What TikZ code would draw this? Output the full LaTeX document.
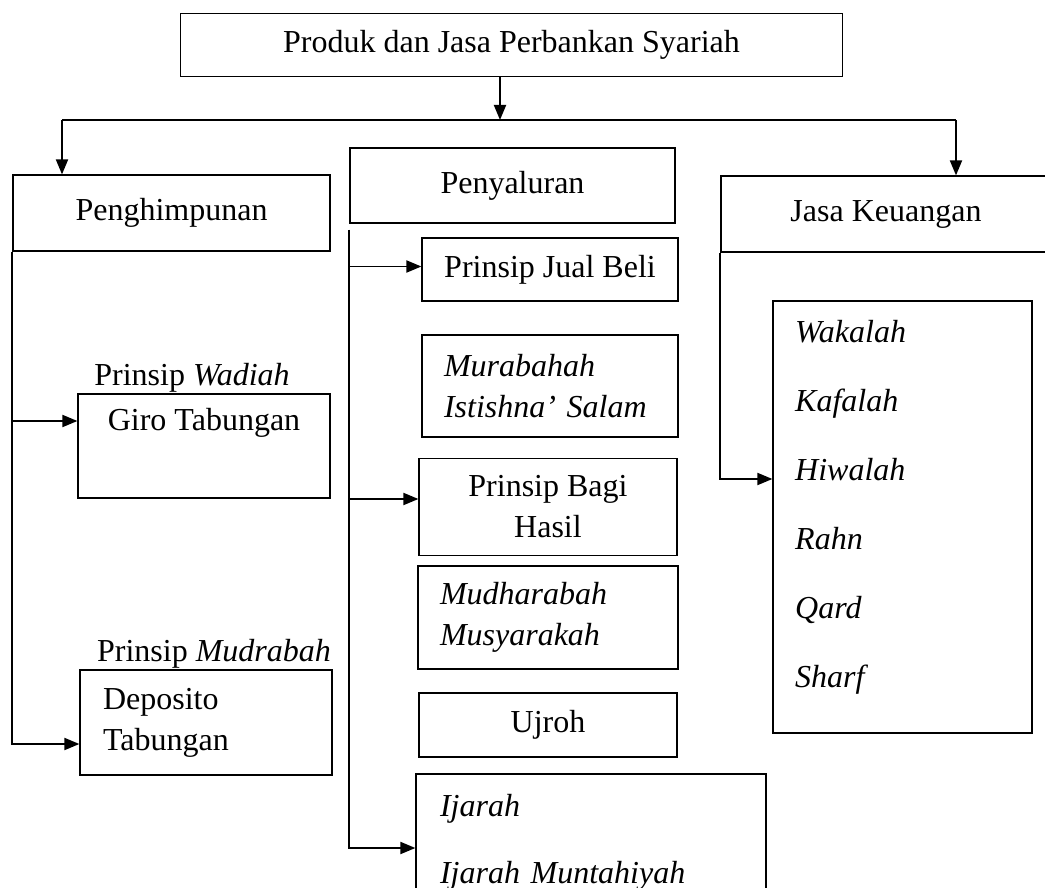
\documentclass[tikz,border=0pt]{standalone}
\usepackage{fontspec}
\setmainfont{Liberation Serif}
\usetikzlibrary{positioning, calc, arrows.meta}
\tikzstyle{box}=[draw, line width=1.2pt, inner sep=0pt]
\tikzstyle{line}=[line width=1.9pt]
\tikzstyle{arrow}=[-{Triangle[length=15pt,width=12pt]}, line width=1.9pt]
\tikzstyle{akad}=[anchor=base west, inner sep=0pt]

\begin{document}
\begin{tikzpicture}[x=1pt, y=-1pt, font=\fontsize{32}{41}\selectfont]
      \useasboundingbox (0,0) rectangle (1045,888);
      \clip (0,0) rectangle (1045,888);

      % top level
      \node[box, minimum width=662pt, minimum height=63pt] (produk) at (511.5,45) {Produk dan Jasa Perbankan Syariah};
      \node[box, minimum width=317pt, minimum height=76pt] (penghimpunan) at (171.5,213) {Penghimpunan};
      \node[box, minimum width=325pt, minimum height=75pt] (penyaluran) at (512.5,185.5) {Penyaluran};
      \node[box, minimum width=330pt, minimum height=76pt] (jasa) at (886,214) {Jasa Keuangan};

      \coordinate (split) at (500,120);
      \coordinate (splitL) at (62,120);
      \coordinate (splitR) at (956,120);

      % penghimpunan
      \node[anchor=base] (wadiah) at (192,385) {Prinsip \textit{Wadiah}};
      \node[box, minimum width=252pt, minimum height=104pt, align=center] (giro) at (204,446) {Giro Tabungan\\ \strut};
      \node[anchor=base] (mudrabah) at (214,661) {Prinsip \textit{Mudrabah}};
      \node[box, minimum width=252pt, minimum height=105pt, text width=206pt, align=left] (deposito) at (206,722.5) {Deposito\\Tabungan};

      % penyaluran
      \node[box, minimum width=256pt, minimum height=63pt] (jualbeli) at (550,269.5) {Prinsip Jual Beli};
      \node[box, minimum width=256pt, minimum height=102pt, text width=212pt, align=left] (murabahah) at (550,386) {\textit{Murabahah}\\\textit{Istishna’ Salam}};
      \node[box, minimum width=258pt, minimum height=97pt, align=center] (bagihasil) at (548,507) {Prinsip Bagi\\Hasil};
      \node[box, minimum width=260pt, minimum height=103pt, text width=216pt, align=left] (mudharabah) at (548,617.5) {\textit{Mudharabah}\\\textit{Musyarakah}};
      \node[box, minimum width=258pt, minimum height=64pt] (ujroh) at (548,725) {Ujroh};
      \node[box, minimum width=350pt, minimum height=137pt, text width=302pt, align=left] (ijarah) at (591,842.5) {\textit{Ijarah}\\[26pt]\textit{Ijarah Muntahiyah}};

      % jasa keuangan
      \node[box, minimum width=259pt, minimum height=432pt] (jasalist) at (902.5,517) {};
      \foreach \nama [count=\i] in {Wakalah, Kafalah, Hiwalah, Rahn, Qard, Sharf}{
        \node[akad] (akad\i) at (795, 273+69*\i) {\textit{\nama}};
      }

      % connectors
      \draw[arrow] (produk.south -| split) -- (split);
      \draw[line] (splitL) -- (splitR);
      \draw[arrow] (splitL) -- (splitL |- penghimpunan.north);
      \draw[arrow] (splitR) -- (splitR |- jasa.north);

      \coordinate (giroIn) at ([yshift=25pt]giro.west);
      \coordinate (depoIn) at ([yshift=-21.5pt]deposito.west);
      \draw[arrow] (penghimpunan.south west) |- (depoIn);
      \draw[arrow] (penghimpunan.south west |- giroIn) -- (giroIn);

      \coordinate (salurTop) at ([yshift=-6pt]penyaluran.south west);
      \coordinate (jualIn) at ([yshift=3pt]jualbeli.west);
      \coordinate (bagiIn) at ([yshift=8pt]bagihasil.west);
      \coordinate (ijarahIn) at ([yshift=-5.5pt]ijarah.west);
      \draw[arrow] (salurTop) |- (ijarahIn);
      \draw[arrow] (salurTop |- jualIn) -- (jualIn);
      \draw[arrow] (salurTop |- bagiIn) -- (bagiIn);

      \coordinate (listIn) at ([yshift=38pt]jasalist.west);
      \draw[arrow] (jasa.south west) |- (listIn);
\end{tikzpicture}
\end{document}
